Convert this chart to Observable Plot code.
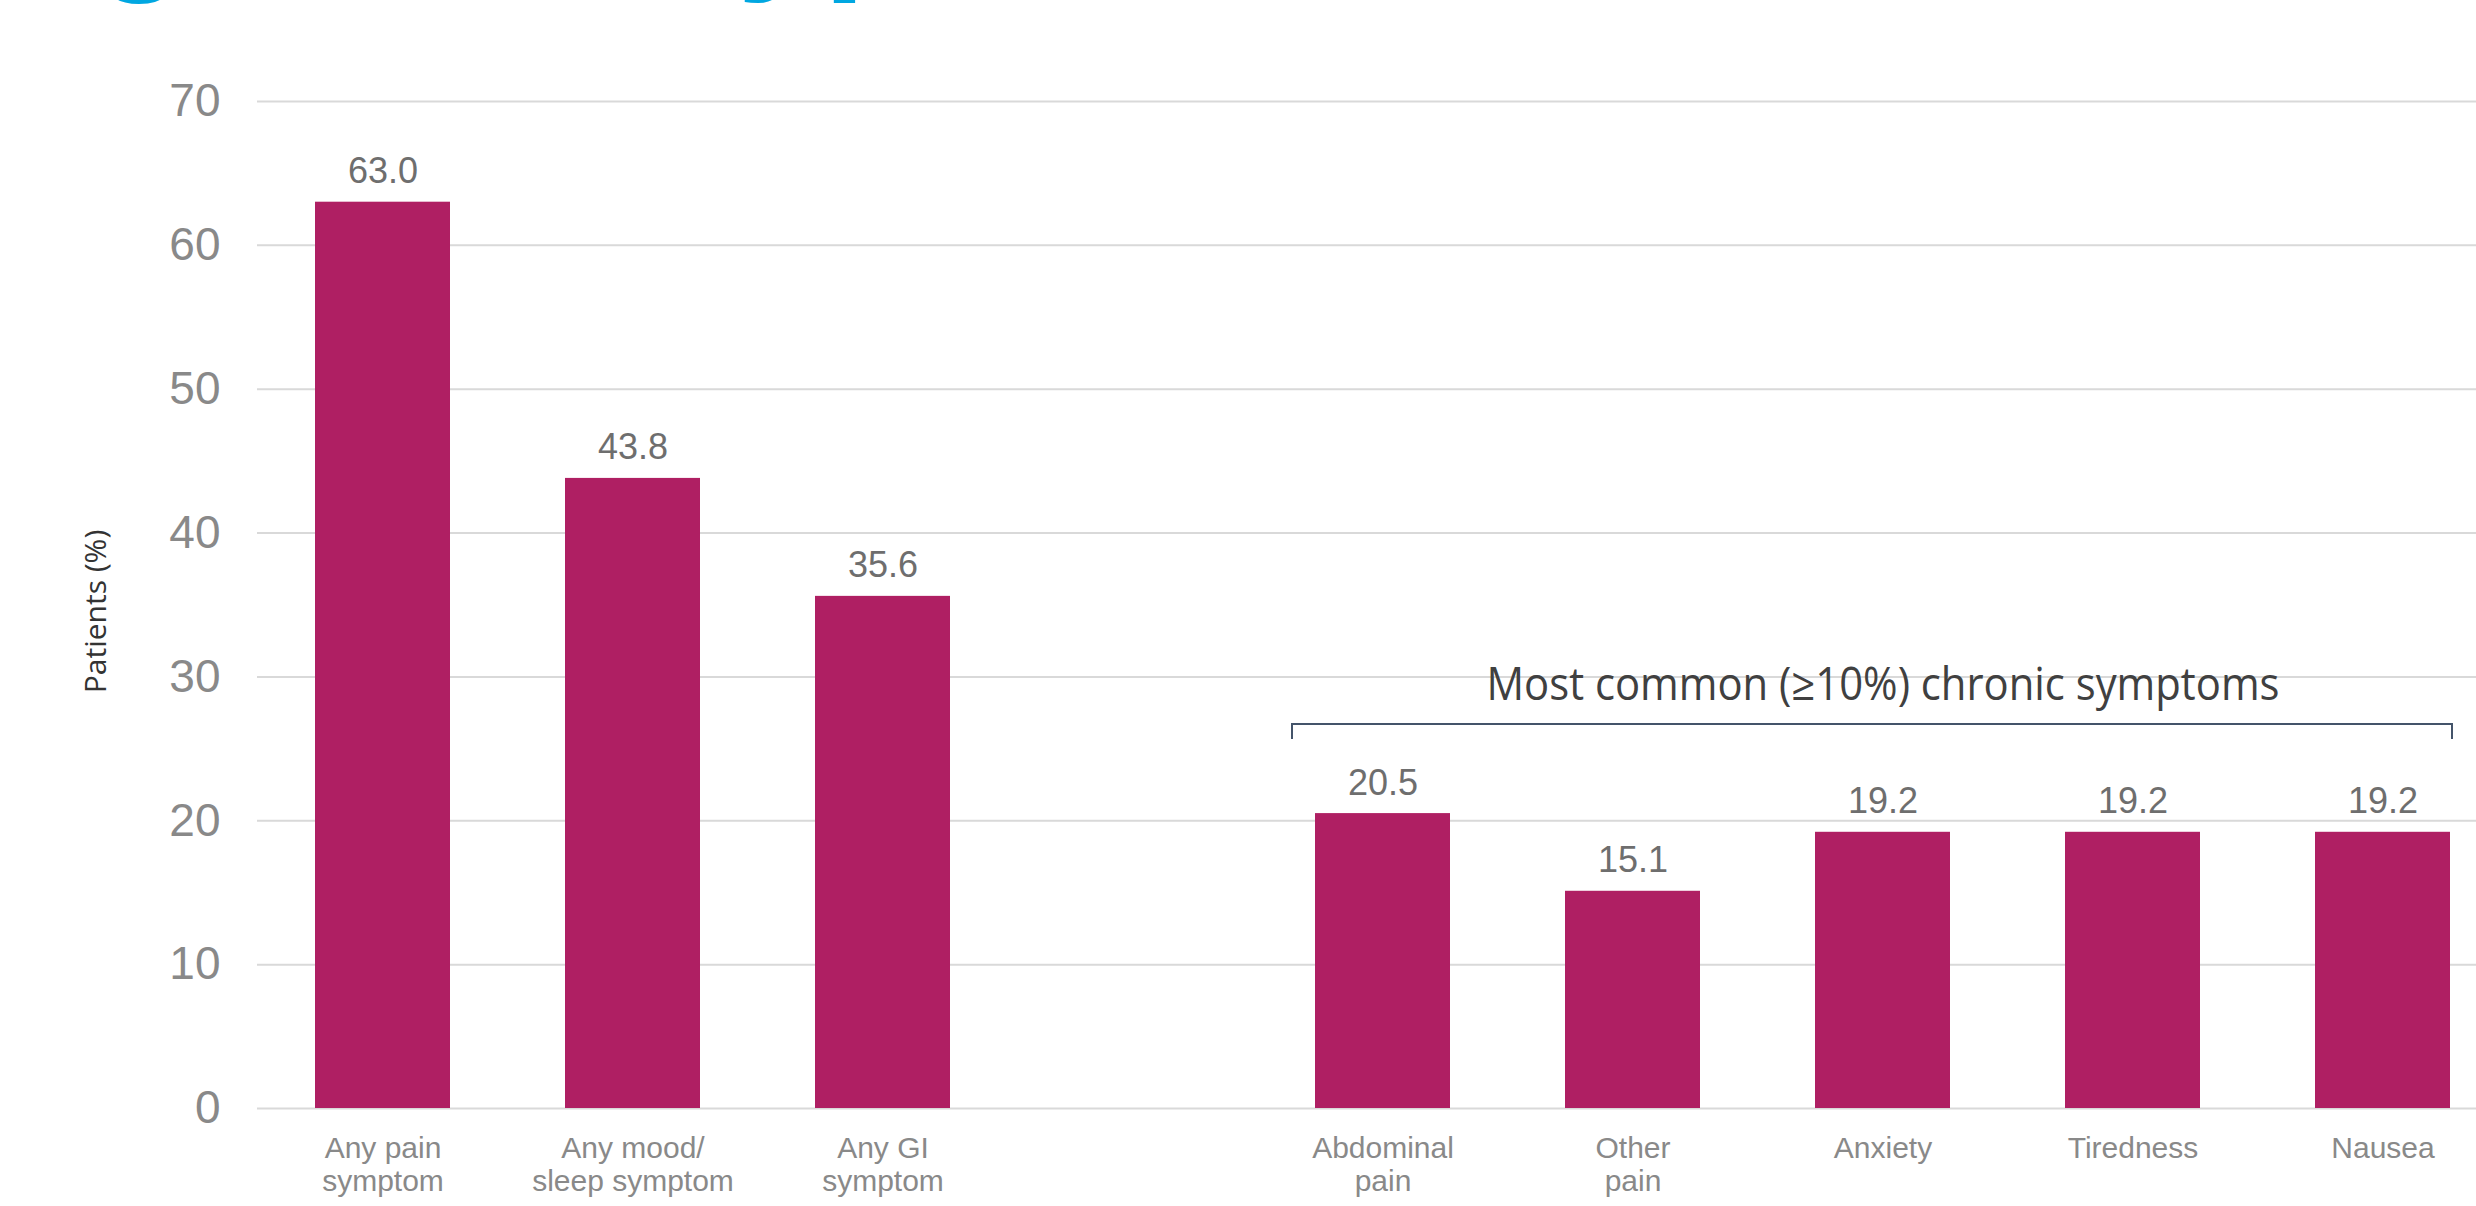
<!DOCTYPE html>
<html>
<head>
<meta charset="utf-8">
<script src="https://cdn.jsdelivr.net/npm/d3@7"></script>
<script src="https://cdn.jsdelivr.net/npm/@observablehq/plot@0.6"></script>
<style>
  html, body { margin: 0; padding: 0; background: #ffffff; overflow: hidden; width: 2476px; height: 1206px; }
  #wrap { position: relative; width: 2476px; height: 1206px; overflow: hidden; }
  #title { position: absolute; top: -160px; left: -44px; white-space: nowrap; font-family: "Liberation Sans", Arial, sans-serif; font-weight: bold; font-size: 155px; line-height: 1; color: #00A7E1; z-index: 0; }
  #chart { position: absolute; top: 0; left: 0; z-index: 1; }
  #chart svg { background: transparent; }
</style>
</head>
<body>
<div id="wrap">
  <div id="title">Figure 2: Types of chronic illness</div>
  <div id="chart"></div>
</div>
<script>
// ---- data ----
const categories = ["Any pain\nsymptom", "Any mood/\nsleep symptom", "Any GI\nsymptom", "Abdominal\npain", "Other\npain", "Anxiety", "Tiredness", "Nausea"];
const values = [63.0, 43.8, 35.6, 20.5, 15.1, 19.2, 19.2, 19.2];
const groupGap = " ";             // empty slot between the two groups
const slotOrder = [categories[0], categories[1], categories[2], groupGap, categories[3], categories[4], categories[5], categories[6], categories[7]];
const yTicks = [0, 10, 20, 30, 40, 50, 60, 70];
const yLabel = "Patients (%)";
const groupLabel = "Most common (\u226510%) chronic symptoms";
const groupFirst = categories[3];
const groupLast = categories[7];
const groupCenter = categories[5];
const bracketLevel = 26.7;   // data-units level of the bracket
const bracketDrop = 1.05;

const data = categories.map((c, i) => ({category: c, value: values[i]}));

function bracketMark(index, scales) {
  const sx = scales.x, sy = scales.y;
  const bw = typeof sx.bandwidth === "function" ? sx.bandwidth() : 135;
  const xl = sx(groupFirst) - 23;
  const xr = sx(groupLast) + bw + 2;
  const yt = sy(bracketLevel);
  const yb = sy(bracketLevel - bracketDrop);
  const g = d3.create("svg:g");
  g.append("path")
    .attr("d", `M${xl},${yb}L${xl},${yt}L${xr},${yt}L${xr},${yb}`)
    .attr("fill", "none")
    .attr("stroke", "#44546A")
    .attr("stroke-width", 2);
  return g.node();
}

const chart = Plot.plot({
  width: 2476,
  height: 1206,
  marginLeft: 257,
  marginRight: 0,
  marginTop: 114,
  marginBottom: 98,
  x: {domain: slotOrder, range: [257, 2507], paddingInner: 0.46, paddingOuter: 0.23, axis: null},
  y: {domain: [0, 70], range: [1108, 101], axis: null},
  style: {fontFamily: "'Liberation Sans', Arial, sans-serif", color: "#898989", background: "transparent", overflow: "visible"},
  marks: [
    Plot.gridY(yTicks, {stroke: "#d9d9d9", strokeOpacity: 1, strokeWidth: 2}),
    Plot.axisY(yTicks, {tickSize: 0, tickPadding: 37, fontSize: 46, label: null, fill: "#898989"}),
    Plot.barY(data, {x: "category", y: "value", fill: "#AF1F63"}),
    Plot.text(data, {x: "category", y: "value", text: d => d.value.toFixed(1), dy: -19, lineAnchor: "bottom", fontSize: 36, fill: "#6e6e6e"}),
    Plot.text(data, {x: "category", y: () => 0, text: "category", lineAnchor: "top", dy: 26, fontSize: 30, lineHeight: 1.1, fill: "#898989"}),
    Plot.text([yLabel], {frameAnchor: "left", textAnchor: "middle", dx: -161, rotate: -90, fontSize: 30, fontFamily: "'Open Sans', sans-serif", fill: "#333333"}),
    Plot.text([groupLabel], {x: () => groupCenter, y: () => bracketLevel, dy: -24, lineAnchor: "bottom", fontSize: 45, fontFamily: "'Open Sans', sans-serif", fill: "#404040", className: "annot"}),
    bracketMark
  ]
});

document.getElementById("chart").appendChild(chart);

// fit the annotation to the reference's narrow typeface width
const annot = chart.querySelector(".annot text");
if (annot) {
  annot.setAttribute("textLength", 793);
  annot.setAttribute("lengthAdjust", "spacingAndGlyphs");
}
</script>
</body>
</html>
